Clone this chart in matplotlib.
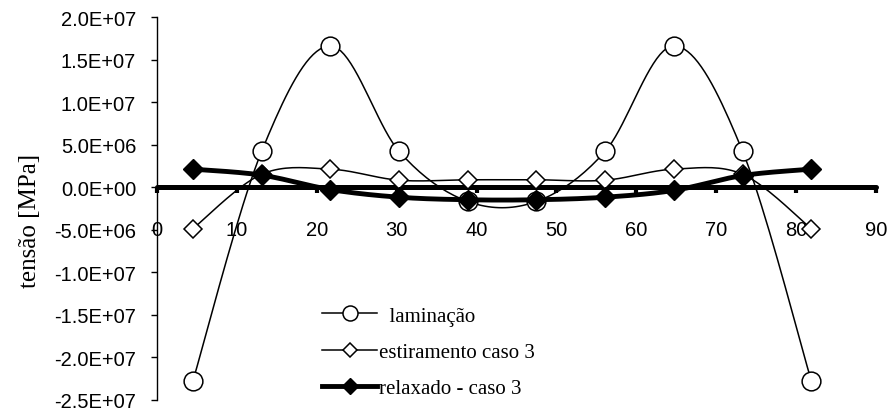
import numpy as np
import matplotlib.pyplot as plt

# posicao (eixo x) e tensoes
posicao = [4.5, 13.1, 21.7, 30.3, 38.9, 47.5, 56.1, 64.7, 73.3, 81.9]
laminacao = [-22.8e6, 4.2e6, 16.6e6, 4.2e6, -1.7e6, -1.7e6, 4.2e6, 16.6e6, 4.2e6, -22.8e6]
estiramento = [-4.9e6, 1.5e6, 2.1e6, 0.8e6, 0.85e6, 0.85e6, 0.8e6, 2.1e6, 1.5e6, -4.9e6]
relaxado = [2.1e6, 1.4e6, -0.3e6, -1.2e6, -1.5e6, -1.5e6, -1.2e6, -0.4e6, 1.35e6, 2.1e6]

xticks = list(range(0, 100, 10))
yticks = [2.0e7, 1.5e7, 1.0e7, 5.0e6, 0.0, -5.0e6, -1.0e7, -1.5e7, -2.0e7, -2.5e7]

N = 20  # amostras por segmento da curva suavizada


# curva suavizada (catmull-rom), como a linha suave do excel
def suave(x, y):
    p = np.column_stack([x, y]).astype(float)
    p = np.vstack([p[0], p, p[-1]])
    t = np.linspace(0, 1, N, endpoint=False)[:, None]
    out = []
    for i in range(1, len(p) - 2):
        p0, p1, p2, p3 = p[i - 1], p[i], p[i + 1], p[i + 2]
        seg = 0.5 * (2 * p1 + (-p0 + p2) * t + (2 * p0 - 5 * p1 + 4 * p2 - p3) * t ** 2
                     + (-p0 + 3 * p1 - 3 * p2 + p3) * t ** 3)
        out.append(seg)
    out.append(p[-2][None])
    c = np.vstack(out)
    return c[:, 0], c[:, 1]


plt.rcParams['font.family'] = ['Liberation Sans', 'DejaVu Sans']

fig = plt.figure(figsize=(8.88, 4.14), dpi=100)
ax = fig.add_axes([0.1768, 0.0326, 0.8097, 0.9239])

marcas = list(range(0, N * (len(posicao) - 1) + 1, N))

xs, ys = suave(posicao, laminacao)
ax.plot(xs, ys, color='black', lw=1.1, marker='o', ms=13.5, mfc='white', mec='black',
        mew=1.1, markevery=marcas, label='  laminação', zorder=3)
xs, ys = suave(posicao, estiramento)
ax.plot(xs, ys, color='black', lw=1.1, marker='D', ms=9, mfc='white', mec='black',
        mew=1.1, markevery=marcas, label='estiramento caso 3', zorder=3)
xs, ys = suave(posicao, relaxado)
ax.plot(xs, ys, color='black', lw=3.5, marker='D', ms=10, mfc='black', mec='black',
        markevery=marcas, label='relaxado - caso 3', zorder=4)

ax.set_xlim(0, 90)
ax.set_ylim(-2.5e7, 2.0e7)
ax.set_xticks(xticks)
ax.set_yticks(yticks)
ax.set_yticklabels(['%.1E' % v for v in yticks])

ax.spines['top'].set_visible(False)
ax.spines['right'].set_visible(False)
ax.spines['bottom'].set_position(('data', 0))
ax.spines['bottom'].set_linewidth(3.6)
ax.spines['bottom'].set_capstyle('round')
ax.spines['left'].set_linewidth(1.0)
ax.tick_params(axis='x', direction='out', length=4, width=3, pad=20, labelsize=14.5)
ax.tick_params(axis='y', direction='out', length=4.5, width=1, pad=10.5, labelsize=14.5)

ax.set_ylabel('tensão [MPa]', family='Liberation Serif', fontsize=18)
ax.yaxis.set_label_coords(-0.162, 0.47)

ax.legend(loc='upper left', bbox_to_anchor=(322 / 888, 1 - 307 / 414),
          bbox_transform=fig.transFigure, frameon=False, borderpad=0,
          borderaxespad=0, handlelength=2.65, handletextpad=0.1, labelspacing=0.8,
          markerscale=0.8, prop={'family': 'Liberation Serif', 'size': 15})

plt.savefig('out.png', dpi=100)
